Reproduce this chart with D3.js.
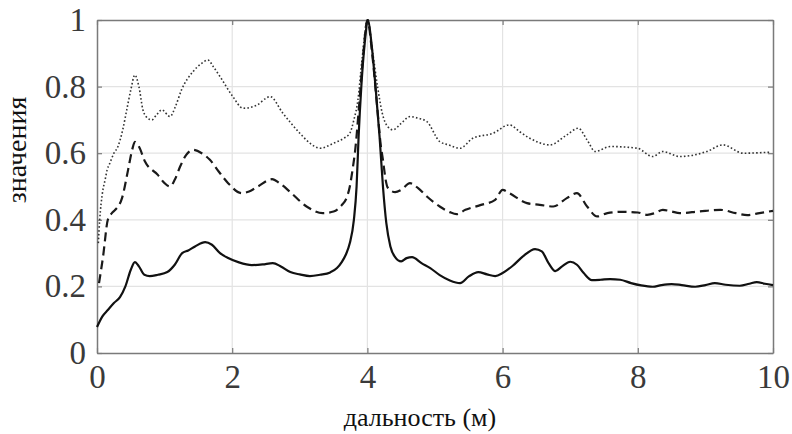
<!DOCTYPE html>
<html>
<head>
<meta charset="utf-8">
<script src="https://cdn.jsdelivr.net/npm/d3@7"></script>
<style>
  body { margin: 0; background: #fff; }
  svg text { font-family: "Liberation Serif", "DejaVu Serif", serif; }
</style>
</head>
<body>
<svg id="chart"></svg>
<script>
// values: [дальность, значение]
const solidSeries = [
  [0,0.078],[0.08,0.11],[0.16,0.129],[0.25,0.15],[0.34,0.168],[0.42,0.2],[0.5,0.25],[0.56,0.273],[0.62,0.26],
  [0.7,0.235],[0.78,0.231],[0.9,0.235],[1.04,0.243],[1.15,0.265],[1.26,0.30],[1.35,0.308],[1.45,0.32],[1.6,0.333],
  [1.7,0.325],[1.82,0.30],[1.94,0.285],[2.1,0.272],[2.29,0.264],[2.45,0.266],[2.6,0.27],[2.72,0.26],[2.86,0.243],
  [3.0,0.236],[3.15,0.231],[3.3,0.235],[3.45,0.242],[3.55,0.255],[3.62,0.273],[3.68,0.295],[3.74,0.33],[3.8,0.40],
  [3.84,0.5],[3.87,0.65],[3.91,0.8],[3.96,0.93],[4.01,1.0],[4.06,0.93],[4.12,0.8],[4.18,0.65],[4.23,0.5],[4.28,0.39],
  [4.34,0.32],[4.41,0.288],[4.5,0.275],[4.58,0.285],[4.66,0.288],[4.8,0.27],[4.93,0.255],[5.07,0.234],[5.22,0.218],
  [5.37,0.21],[5.5,0.23],[5.64,0.243],[5.77,0.236],[5.89,0.231],[6.0,0.24],[6.15,0.262],[6.3,0.29],[6.48,0.312],
  [6.58,0.305],[6.68,0.27],[6.78,0.246],[6.88,0.26],[7.0,0.274],[7.1,0.265],[7.2,0.24],[7.32,0.219],[7.45,0.22],
  [7.59,0.222],[7.74,0.22],[7.9,0.21],[8.05,0.203],[8.22,0.199],[8.35,0.204],[8.5,0.207],[8.65,0.204],[8.85,0.199],
  [9.0,0.204],[9.14,0.21],[9.3,0.205],[9.51,0.202],[9.65,0.208],[9.76,0.213],[9.88,0.208],[10,0.204]
];
const dashedSeries = [
  [0.03,0.21],[0.09,0.29],[0.16,0.40],[0.22,0.42],[0.27,0.43],[0.37,0.465],[0.46,0.55],[0.52,0.61],[0.56,0.634],
  [0.62,0.62],[0.71,0.575],[0.9,0.535],[1.0,0.51],[1.08,0.50],[1.15,0.52],[1.23,0.56],[1.32,0.595],[1.42,0.61],
  [1.55,0.6],[1.67,0.58],[1.8,0.545],[1.94,0.51],[2.14,0.48],[2.25,0.485],[2.38,0.50],[2.59,0.522],[2.7,0.51],
  [2.86,0.483],[3.1,0.44],[3.34,0.42],[3.5,0.425],[3.62,0.444],[3.7,0.47],[3.74,0.50],[3.78,0.55],[3.82,0.61],
  [3.88,0.75],[3.94,0.9],[4.0,1.0],[4.07,0.9],[4.14,0.75],[4.2,0.62],[4.23,0.58],[4.27,0.52],[4.3,0.497],[4.41,0.483],
  [4.5,0.49],[4.63,0.51],[4.75,0.495],[4.88,0.47],[5.07,0.44],[5.22,0.423],[5.32,0.417],[5.45,0.43],[5.67,0.444],
  [5.89,0.46],[6.0,0.49],[6.1,0.48],[6.36,0.45],[6.55,0.445],[6.75,0.44],[6.95,0.465],[7.1,0.48],[7.25,0.44],
  [7.4,0.41],[7.55,0.42],[7.78,0.424],[8.0,0.422],[8.14,0.415],[8.25,0.42],[8.37,0.43],[8.5,0.425],[8.62,0.42],
  [8.9,0.425],[9.22,0.43],[9.45,0.42],[9.62,0.414],[9.8,0.42],[10,0.427]
];
const dottedSeries = [
  [0.02,0.33],[0.04,0.40],[0.08,0.48],[0.12,0.52],[0.15,0.55],[0.19,0.57],[0.25,0.60],[0.31,0.62],[0.38,0.67],
  [0.44,0.73],[0.5,0.79],[0.56,0.835],[0.62,0.8],[0.68,0.73],[0.75,0.705],[0.81,0.70],[0.88,0.715],[0.96,0.73],
  [1.08,0.71],[1.16,0.74],[1.25,0.79],[1.42,0.845],[1.55,0.87],[1.64,0.88],[1.72,0.86],[1.82,0.83],[2.01,0.77],
  [2.16,0.735],[2.37,0.745],[2.5,0.765],[2.56,0.77],[2.75,0.72],[3.0,0.66],[3.15,0.63],[3.3,0.615],[3.5,0.63],
  [3.65,0.645],[3.74,0.66],[3.8,0.7],[3.86,0.76],[3.92,0.88],[4.0,1.0],[4.08,0.9],[4.15,0.8],[4.22,0.72],[4.3,0.68],
  [4.38,0.67],[4.5,0.69],[4.63,0.71],[4.75,0.705],[4.88,0.695],[5.07,0.635],[5.2,0.625],[5.37,0.615],[5.56,0.645],
  [5.86,0.66],[6.1,0.685],[6.25,0.665],[6.4,0.645],[6.7,0.625],[6.95,0.655],[7.12,0.675],[7.25,0.64],[7.37,0.605],
  [7.59,0.62],[7.99,0.615],[8.22,0.59],[8.37,0.605],[8.62,0.59],[9.02,0.605],[9.26,0.625],[9.56,0.60],[9.96,0.603]
];
const xTicks = [0, 2, 4, 6, 8, 10];
const yTicks = [0, 0.2, 0.4, 0.6, 0.8, 1];
const xTitle = "дальность (м)";
const yTitle = "значения";

const width = 792;
const height = 434;
const margin = { top: 20, right: 19, bottom: 81, left: 97 };
const chartWidth = width - margin.left - margin.right;
const chartHeight = height - margin.top - margin.bottom;
const serif = '"Liberation Serif", "Times New Roman", serif';

const svg = d3.select('#chart')
    .attr('width', width)
    .attr('height', height);

const g = svg.append('g')
    .attr('transform', `translate(${margin.left},${margin.top})`);

const xScale = d3.scaleLinear().domain([0, 10]).range([0, chartWidth]);
const yScale = d3.scaleLinear().domain([0, 1]).range([chartHeight, 0]);

// grid
g.selectAll('.xgrid')
    .data(xTicks.slice(1, -1))
    .enter()
    .append('line')
    .attr('x1', d => xScale(d)).attr('x2', d => xScale(d))
    .attr('y1', 0).attr('y2', chartHeight)
    .attr('stroke', '#e3e3e3').attr('stroke-width', 1.2);

g.selectAll('.ygrid')
    .data(yTicks.slice(1, -1))
    .enter()
    .append('line')
    .attr('x1', 0).attr('x2', chartWidth)
    .attr('y1', d => yScale(d)).attr('y2', d => yScale(d))
    .attr('stroke', '#e3e3e3').attr('stroke-width', 1.2);

// axes (ticks inward, on all four sides)
const fmt = d => d3.format('~g')(d);
const xAxis = g.append('g')
    .attr('transform', `translate(0,${chartHeight})`)
    .call(d3.axisBottom(xScale).tickValues(xTicks).tickSizeInner(-5).tickSizeOuter(0).tickPadding(12).tickFormat(fmt));
const yAxis = g.append('g')
    .call(d3.axisLeft(yScale).tickValues(yTicks).tickSizeInner(-5).tickSizeOuter(0).tickPadding(11).tickFormat(fmt));
g.append('g')
    .call(d3.axisTop(xScale).tickValues(xTicks).tickSizeInner(-5).tickSizeOuter(0).tickFormat(''));
g.append('g')
    .attr('transform', `translate(${chartWidth},0)`)
    .call(d3.axisRight(yScale).tickValues(yTicks).tickSizeInner(-5).tickSizeOuter(0).tickFormat(''));

g.selectAll('.domain').attr('stroke', '#7a7a7a').attr('stroke-width', 1.5);
g.selectAll('.tick line').attr('stroke', '#7a7a7a').attr('stroke-width', 1.2);
g.selectAll('.tick text')
    .attr('font-family', serif)
    .style('font-family', serif)
    .style('font-size', '33px')
    .attr('fill', '#3a3a3a');
xAxis.selectAll('.tick text').attr('dy', '0.71em');

// series
const line = d3.line()
    .x(d => xScale(d[0]))
    .y(d => yScale(d[1]))
    .curve(d3.curveMonotoneX);

g.append('path')
    .datum(dottedSeries)
    .attr('fill', 'none')
    .attr('stroke', '#333')
    .attr('stroke-width', 1.6)
    .attr('stroke-dasharray', '1.6,2.2')
    .attr('d', line);

g.append('path')
    .datum(dashedSeries)
    .attr('fill', 'none')
    .attr('stroke', '#1a1a1a')
    .attr('stroke-width', 2.2)
    .attr('stroke-dasharray', '9,5')
    .attr('d', line);

g.append('path')
    .datum(solidSeries)
    .attr('fill', 'none')
    .attr('stroke', '#111')
    .attr('stroke-width', 2.2)
    .attr('d', line);

// axis titles
svg.append('text')
    .attr('x', 420)
    .attr('y', 426)
    .attr('text-anchor', 'middle')
    .style('font-family', serif)
    .style('font-size', '26px')
    .attr('fill', '#111')
    .text(xTitle);

svg.append('text')
    .attr('transform', 'translate(26,150) rotate(-90)')
    .attr('text-anchor', 'middle')
    .style('font-family', serif)
    .style('font-size', '28px')
    .attr('fill', '#111')
    .text(yTitle);
</script>
</body>
</html>
